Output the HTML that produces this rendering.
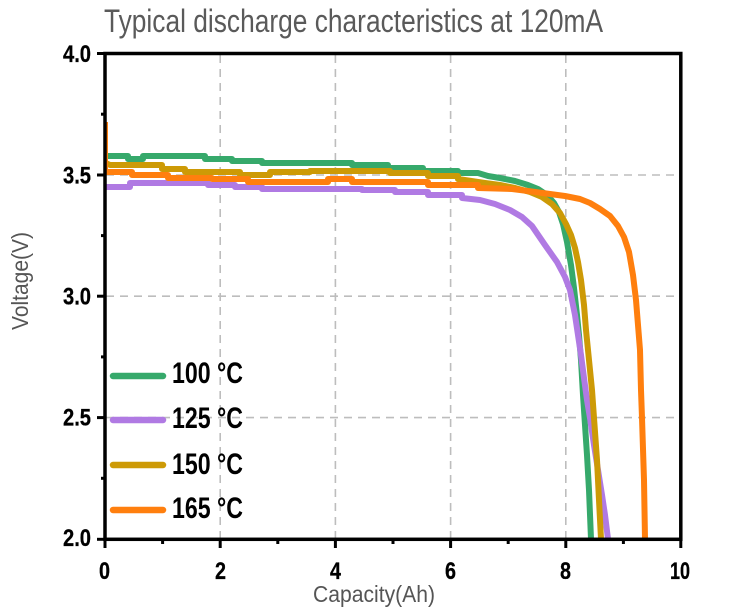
<!DOCTYPE html>
<html>
<head>
<meta charset="utf-8">
<style>
  html, body { margin:0; padding:0; background:#ffffff; }
  svg { display:block; }
  .tl { font-family:"Liberation Sans", sans-serif; font-weight:bold; font-size:24px; fill:#000; stroke:#000; stroke-width:0.3; }
  .lg { font-family:"Liberation Sans", sans-serif; font-weight:bold; font-size:30px; fill:#000; }
  .ax { font-family:"Liberation Sans", sans-serif; font-size:23px; fill:#555; }
</style>
</head>
<body>
<svg width="750" height="613" viewBox="0 0 750 613" xmlns="http://www.w3.org/2000/svg">
  <rect width="750" height="613" fill="#fff"/>

  <!-- Title -->
  <text x="104" y="32" font-family="Liberation Sans, sans-serif" font-size="32" fill="#5a5a5a" textLength="499" lengthAdjust="spacingAndGlyphs">Typical discharge characteristics at 120mA</text>

  <!-- Grid -->
  <g stroke="#bdbdbd" stroke-width="1.6" stroke-dasharray="8 6" fill="none">
    <line x1="220.2" y1="55" x2="220.2" y2="538"/>
    <line x1="335.4" y1="55" x2="335.4" y2="538"/>
    <line x1="450.6" y1="55" x2="450.6" y2="538"/>
    <line x1="565.8" y1="55" x2="565.8" y2="538"/>
    <line x1="106" y1="175" x2="680" y2="175"/>
    <line x1="106" y1="296.2" x2="680" y2="296.2"/>
    <line x1="106" y1="417.6" x2="680" y2="417.6"/>
  </g>

  <!-- Curves -->
  <g fill="none" stroke-width="6" stroke-linejoin="round" stroke-linecap="butt">
    <!-- 100 C green -->
    <path stroke="#36a96b" d="M106,156 H128 V159 H143 V156 H205 V159 H232 V161 H262 V163 H352 V165 H388 V168 H423 V171 H458 V173 H478 L488,176 L500,178 L515,181 L528,185 L538,189 L547,195 L554,203 L559,212 L563,224 L567,242 L571,265 L574,288 L577,315 L579,335 L581,360 L583,395 L585,425 L587,455 L589,490 L591,539"/>
    <!-- 125 C purple -->
    <path stroke="#b07ae3" d="M106,187 H130 V183 H208 V185 H235 V187 H262 V189 H362 V190 H395 V192 H428 V195 H462 V198 L480,200 L495,204 L510,210 L522,217 L532,226 L545,245 L557,262 L565,277 L570,290 L575,315 L578,335 L581,355 L584,378 L587,400 L590,418 L594,445 L598,470 L602,495 L605,515 L608,539"/>
    <!-- 150 C gold -->
    <path stroke="#cd9a06" d="M106,163 L110,165 H162 V169 H185 V172 H240 V175 H270 V172 H310 V171 H390 V173 H428 V176 H458 V179 L485,183 L500,185 L515,188 L530,192 L542,197 L552,204 L560,213 L566,224 L571,235 L575,248 L578,262 L581,280 L584,305 L586,330 L589,360 L592,390 L594,418 L597,460 L599,500 L601,539"/>
    <!-- 165 C orange -->
    <path stroke="#ff7f0e" d="M106,172 H132 V175 H168 V178 H212 V179 H248 V182 H328 V179 H352 V182 H428 V185 H478 V188 L512,189 L528,191 L550,194 L565,196 L580,199 L590,203 L600,209 L610,216 L618,226 L624,237 L629,252 L633,275 L636,300 L638,325 L640,350 L641,390 L642,418 L644,480 L645,539"/>
  </g>
  <line x1="106.5" y1="122" x2="106.5" y2="172" stroke="#ff7f0e" stroke-width="3"/>

  <!-- Legend -->
  <g stroke-width="6.5" stroke-linecap="round">
    <line x1="113" y1="376" x2="163" y2="376" stroke="#36a96b"/>
    <line x1="113" y1="420" x2="163" y2="420" stroke="#b07ae3"/>
    <line x1="113" y1="465" x2="163" y2="465" stroke="#cd9a06"/>
    <line x1="113" y1="510" x2="163" y2="510" stroke="#ff7f0e"/>
  </g>
  <text class="lg" x="172" y="383" textLength="71" lengthAdjust="spacingAndGlyphs">100 °C</text>
  <text class="lg" x="172" y="428" textLength="71" lengthAdjust="spacingAndGlyphs">125 °C</text>
  <text class="lg" x="172" y="474" textLength="71" lengthAdjust="spacingAndGlyphs">150 °C</text>
  <text class="lg" x="172" y="518" textLength="71" lengthAdjust="spacingAndGlyphs">165 °C</text>

  <!-- Axes frame -->
  <rect x="105" y="53.5" width="575.8" height="485.8" fill="none" stroke="#000" stroke-width="3.5"/>

  <!-- Ticks -->
  <g stroke="#000" stroke-width="3">
    <line x1="97" y1="53.5" x2="105" y2="53.5"/>
    <line x1="97" y1="175" x2="105" y2="175"/>
    <line x1="97" y1="296.2" x2="105" y2="296.2"/>
    <line x1="97" y1="417.6" x2="105" y2="417.6"/>
    <line x1="97" y1="539.3" x2="105" y2="539.3"/>
    <line x1="101" y1="114.2" x2="105" y2="114.2"/>
    <line x1="101" y1="235.6" x2="105" y2="235.6"/>
    <line x1="101" y1="356.9" x2="105" y2="356.9"/>
    <line x1="101" y1="478.3" x2="105" y2="478.3"/>

    <line x1="105" y1="539" x2="105" y2="548"/>
    <line x1="220.2" y1="539" x2="220.2" y2="548"/>
    <line x1="335.4" y1="539" x2="335.4" y2="548"/>
    <line x1="450.6" y1="539" x2="450.6" y2="548"/>
    <line x1="565.8" y1="539" x2="565.8" y2="548"/>
    <line x1="680.8" y1="539" x2="680.8" y2="548"/>
    <line x1="162.6" y1="539" x2="162.6" y2="544"/>
    <line x1="277.8" y1="539" x2="277.8" y2="544"/>
    <line x1="393" y1="539" x2="393" y2="544"/>
    <line x1="508.2" y1="539" x2="508.2" y2="544"/>
    <line x1="623.4" y1="539" x2="623.4" y2="544"/>
  </g>

  <!-- Y tick labels -->
  <text class="tl" x="63" y="62" textLength="28" lengthAdjust="spacingAndGlyphs">4.0</text>
  <text class="tl" x="63" y="183.5" textLength="28" lengthAdjust="spacingAndGlyphs">3.5</text>
  <text class="tl" x="63" y="304.5" textLength="28" lengthAdjust="spacingAndGlyphs">3.0</text>
  <text class="tl" x="63" y="425.5" textLength="28" lengthAdjust="spacingAndGlyphs">2.5</text>
  <text class="tl" x="63" y="546" textLength="28" lengthAdjust="spacingAndGlyphs">2.0</text>

  <!-- X tick labels -->
  <text class="tl" x="99" y="579" textLength="11" lengthAdjust="spacingAndGlyphs">0</text>
  <text class="tl" x="215" y="579" textLength="11" lengthAdjust="spacingAndGlyphs">2</text>
  <text class="tl" x="330" y="579" textLength="11" lengthAdjust="spacingAndGlyphs">4</text>
  <text class="tl" x="445" y="579" textLength="11" lengthAdjust="spacingAndGlyphs">6</text>
  <text class="tl" x="560" y="579" textLength="11" lengthAdjust="spacingAndGlyphs">8</text>
  <text class="tl" x="670" y="579" textLength="20" lengthAdjust="spacingAndGlyphs">10</text>

  <!-- Axis titles -->
  <text class="ax" x="313" y="602" textLength="122" lengthAdjust="spacingAndGlyphs">Capacity(Ah)</text>
  <text class="ax" transform="translate(28,330) rotate(-90)" x="0" y="0" textLength="98" lengthAdjust="spacingAndGlyphs">Voltage(V)</text>
</svg>
</body>
</html>
